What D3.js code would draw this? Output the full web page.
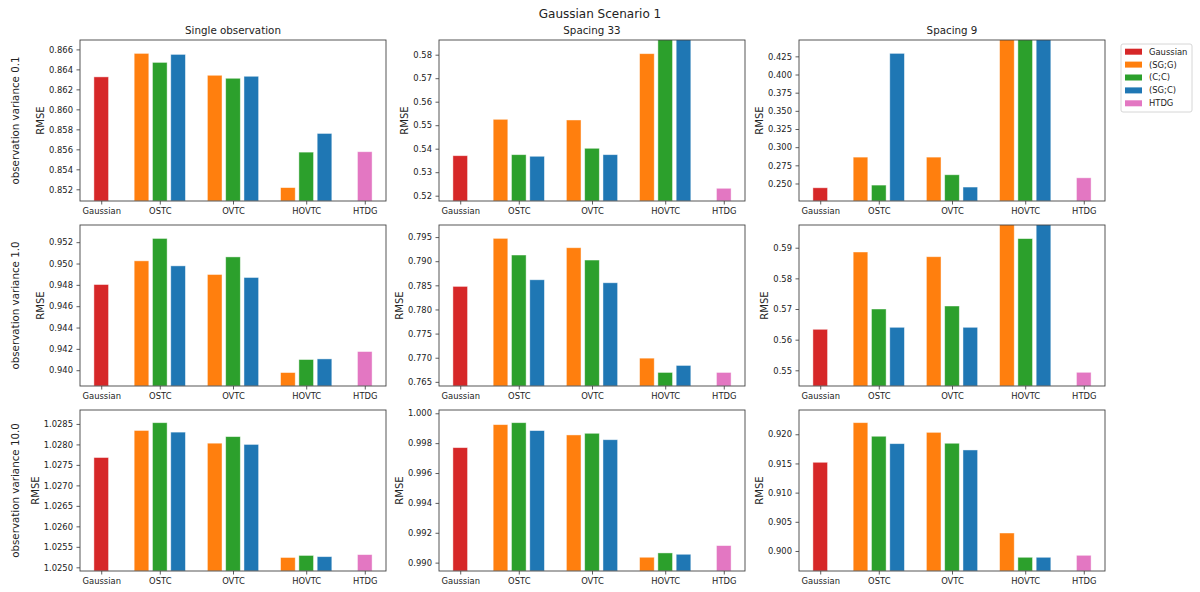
<!DOCTYPE html>
<html>
<head>
<meta charset="utf-8">
<script src="https://cdn.jsdelivr.net/npm/d3@7"></script>
<style>
  body { margin: 0; background: #fff; }
  text { font-family: "DejaVu Sans", sans-serif; fill: #222; }
</style>
</head>
<body>
<div id="viz"></div>
<script>
// === DATA ===
const columns = ["Single observation", "Spacing 33", "Spacing 9"];
const rows = ["observation variance 0.1", "observation variance 1.0", "observation variance 10.0"];
const categories = ["Gaussian", "OSTC", "OVTC", "HOVTC", "HTDG"];
const groupCats = ["OSTC", "OVTC", "HOVTC"];
const series = ["Gaussian", "(SG;G)", "(C;C)", "(SG;C)", "HTDG"];

// [row][col]
const gaussianRMSE = [
  [0.86325, 0.53702, 0.2441],
  [0.94803, 0.78478, 0.56338],
  [1.02768, 0.99770, 0.91520]
];
const htdgRMSE = [
  [0.85576, 0.52315, 0.2578],
  [0.94175, 0.76695, 0.54935],
  [1.02531, 0.99114, 0.89926]
];
// [row][col][OSTC, OVTC, HOVTC]
const sgG = [
  [[0.8656, 0.86341, 0.85217], [0.5525, 0.55221, 0.58043], [0.2863, 0.2863, 0.52]],
  [[0.95025, 0.94897, 0.93978], [0.79473, 0.79279, 0.76991], [0.5886, 0.58706, 0.605]],
  [[1.02834, 1.02803, 1.02524], [0.99924, 0.99855, 0.99036], [0.92199, 0.92033, 0.90308]]
];
const cC = [
  [[0.8647, 0.86311, 0.85572], [0.53745, 0.54017, 0.61], [0.2478, 0.2620, 0.50]],
  [[0.95235, 0.95062, 0.9410], [0.79128, 0.79024, 0.76695], [0.5700, 0.57098, 0.59297]],
  [[1.02853, 1.02819, 1.02529], [0.99937, 0.99866, 0.99065], [0.91966, 0.91846, 0.89892]]
];
const sgC = [
  [[0.8655, 0.86331, 0.85759], [0.53677, 0.53745, 0.62], [0.4291, 0.2451, 0.55]],
  [[0.94978, 0.94869, 0.94106], [0.78615, 0.78553, 0.7684], [0.56403, 0.56403, 0.61]],
  [[1.0283, 1.0280, 1.02526], [0.99884, 0.99823, 0.99056], [0.91839, 0.91731, 0.89892]]
];

// axis limits and tick steps per panel [row][col]
const yLimits = [
  [[0.85083, 0.86694], [0.51774, 0.58625], [0.2259, 0.4475]],
  [[0.93852, 0.95361], [0.76414, 0.7975], [0.54488, 0.59741]],
  [[1.02491, 1.02884], [0.98944, 1.00022], [0.89657, 0.92416]]
];
const tickStart = [
  [0.852, 0.52, 0.25],
  [0.940, 0.765, 0.55],
  [1.025, 0.990, 0.900]
];
const tickStep = [
  [0.002, 0.01, 0.025],
  [0.002, 0.005, 0.01],
  [0.0005, 0.002, 0.005]
];
const tickDigits = [
  [3, 2, 3],
  [3, 3, 2],
  [4, 3, 3]
];

// === LAYOUT ===
const width = 1200, height = 592;
const panelLeft = [80, 439, 799];
const panelTop = [40, 225, 410];
const pw = 306, ph = 161;
const colors = {
  "Gaussian": "#d62728", "(SG;G)": "#ff7f0e", "(C;C)": "#2ca02c",
  "(SG;C)": "#1f77b4", "HTDG": "#e377c2"
};
const catPos = { Gaussian: 0, OSTC: 0.8, OVTC: 1.8, HOVTC: 2.8, HTDG: 3.6 };
const barW = 0.2, slot = 0.25;

const svg = d3.select("#viz").append("svg")
  .attr("width", width)
  .attr("height", height);

svg.append("text")
  .attr("x", 600).attr("y", 18)
  .attr("text-anchor", "middle")
  .style("font-size", "12px")
  .text("Gaussian Scenario 1");

const x = d3.scaleLinear().domain([-0.29, 3.89]).range([0, pw]);

rows.forEach((rowName, r) => {
  columns.forEach((colName, c) => {
    const g = svg.append("g")
      .attr("transform", `translate(${panelLeft[c]},${panelTop[r]})`);

    const y = d3.scaleLinear().domain(yLimits[r][c]).range([ph, 0]);

    // bars for this panel
    const bars = [{ s: "Gaussian", pos: catPos.Gaussian, v: gaussianRMSE[r][c] }];
    groupCats.forEach((cat, m) => {
      [sgG, cC, sgC].forEach((arr, k) => {
        bars.push({ s: series[k + 1], pos: catPos[cat] + (k - 1) * slot, v: arr[r][c][m] });
      });
    });
    bars.push({ s: "HTDG", pos: catPos.HTDG, v: htdgRMSE[r][c] });

    const clipId = `clip-${r}-${c}`;
    g.append("clipPath").attr("id", clipId)
      .append("rect").attr("width", pw).attr("height", ph);

    g.append("g")
      .attr("clip-path", `url(#${clipId})`)
      .selectAll("rect")
      .data(bars)
      .join("rect")
      .attr("x", d => x(d.pos - barW / 2))
      .attr("width", x(barW) - x(0))
      .attr("y", d => y(d.v))
      .attr("height", d => Math.max(0, ph - y(d.v)))
      .attr("fill", d => colors[d.s])
      .attr("stroke", "#fff")
      .attr("stroke-opacity", 0.55)
      .attr("stroke-width", 0.8);

    // axes
    const ticks = d3.range(tickStart[r][c], yLimits[r][c][1] + 1e-9, tickStep[r][c]);
    const yAxis = d3.axisLeft(y)
      .tickValues(ticks)
      .tickFormat(d3.format(`.${tickDigits[r][c]}f`))
      .tickSize(3.5).tickPadding(3.5);
    const xAxis = d3.axisBottom(x)
      .tickValues(categories.map(k => catPos[k]))
      .tickFormat((d, i) => categories[i])
      .tickSize(3.5).tickPadding(3.5);

    const ya = g.append("g").call(yAxis);
    const xa = g.append("g").attr("transform", `translate(0,${ph})`).call(xAxis);
    [ya, xa].forEach(a => {
      a.select(".domain").remove();
      a.selectAll("line").attr("stroke", "#333").attr("stroke-width", 0.8);
      a.selectAll("text").style("font-size", "8.4px").attr("fill", "#222");
    });

    g.append("rect")
      .attr("width", pw).attr("height", ph)
      .attr("fill", "none")
      .attr("stroke", "#444")
      .attr("stroke-width", 0.9);

    // y label sits just left of the widest tick label
    const ylx = ya.node().getBBox().x - 8.5;
    g.append("text")
      .attr("transform", `translate(${ylx},${ph / 2}) rotate(-90)`)
      .attr("text-anchor", "middle")
      .attr("dy", "0.35em")
      .style("font-size", "10px")
      .text("RMSE");

    if (r === 0) {
      g.append("text")
        .attr("x", pw / 2).attr("y", -6)
        .attr("text-anchor", "middle")
        .style("font-size", "10.3px")
        .text(colName);
    }
    if (c === 0) {
      g.append("text")
        .attr("transform", `translate(${15 - panelLeft[0]},${ph / 2}) rotate(-90)`)
        .attr("text-anchor", "middle")
        .attr("dy", "0.35em")
        .style("font-size", "10.3px")
        .text(rowName);
    }
  });
});

// === LEGEND ===
const legend = svg.append("g").attr("transform", "translate(1121,44)");
legend.append("rect")
  .attr("width", 71).attr("height", 68)
  .attr("rx", 2)
  .attr("fill", "#fff")
  .attr("stroke", "#ccc")
  .attr("stroke-width", 0.8);
const items = legend.selectAll("g.item")
  .data(series)
  .join("g")
  .attr("class", "item")
  .attr("transform", (d, i) => `translate(4,${7.7 + i * 12.9})`);
items.append("rect")
  .attr("width", 17).attr("height", 6)
  .attr("y", -3)
  .attr("fill", d => colors[d]);
items.append("text")
  .attr("x", 24).attr("dy", "0.35em")
  .style("font-size", "8.4px")
  .text(d => d);
</script>
</body>
</html>
